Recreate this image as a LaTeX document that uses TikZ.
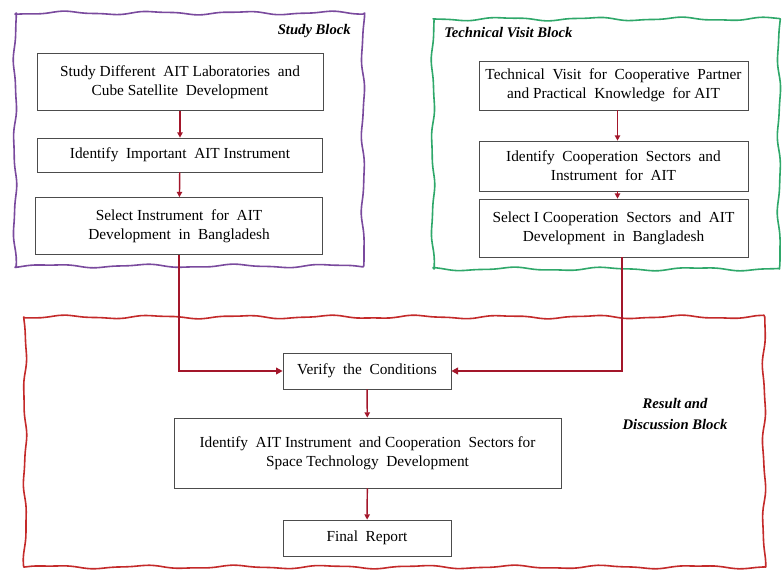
\documentclass[tikz,border=0pt]{standalone}
\usepackage{fontspec}
\setmainfont{Liberation Serif}
\usetikzlibrary{arrows.meta}
\definecolor{studyc}{HTML}{7A4A9E}
\definecolor{visitc}{HTML}{2FA86A}
\definecolor{resultc}{HTML}{C42A2A}
\definecolor{flowc}{HTML}{A3162A}
\tikzset{
  stepbox/.style={draw=black!70, line width=0.5pt, fill=white, align=center,
    inner sep=2pt, font=\fontsize{11.5}{14}\selectfont},
  frame/.style={line width=1.2pt, line join=round},
  blocktitle/.style={font=\fontsize{11}{13}\selectfont\bfseries\itshape, inner sep=0pt},
  flow/.style={draw=flowc, line width=1.1pt, -{Triangle[length=4pt,width=4pt]}},
  merge/.style={draw=flowc, line width=1.8pt, -{Triangle[length=5pt,width=5pt]}}
}
% hand-drawn looking frame: #1=left, #2=top, #3=right, #4=bottom, #5=colour
\newcommand{\wobblyframe}[5]{%
  \draw[frame, #5]
    plot[smooth, samples=90, domain=#1:#3] (\x, {#2 + 1.4*sin(\x*4.1) + 0.5*sin(\x*9.3+40)})
    -- plot[smooth, samples=60, domain=#2:#4] ({#3 + 1.4*sin(\x*4.6+20) + 0.4*sin(\x*9.7)}, \x)
    -- plot[smooth, samples=90, domain=#3:#1] (\x, {#4 + 1.4*sin(\x*3.9+70) + 0.5*sin(\x*8.9)})
    -- plot[smooth, samples=60, domain=#4:#2] ({#1 + 1.4*sin(\x*4.3+10) + 0.4*sin(\x*10.1+30)}, \x)
    -- cycle;}
\begin{document}
\begin{tikzpicture}[x=0.75pt,y=-0.75pt]
\useasboundingbox (0,0) rectangle (782,571);
\fill[white] (0,0) rectangle (782,571);

% block frames
\wobblyframe{15}{13}{363}{266}{studyc}
\wobblyframe{433}{19}{779}{269}{visitc}
\wobblyframe{25}{317}{764}{567}{resultc}

% block titles
\node[blocktitle, anchor=east] (tstudy) at (351,31) {Study Block};
\node[blocktitle, anchor=west] (tvisit) at (444,33) {Technical Visit Block};
\node[blocktitle, align=center, font=\fontsize{11}{16}\selectfont\bfseries\itshape]
  (tresult) at (675,414) {Result and\\Discussion Block};

% study steps
\node[stepbox, minimum width=214.5pt, minimum height=42.75pt] (s1) at (180,82)
  {Study Different\ \ AIT Laboratories\ \ and\\Cube Satellite\ \ Development};
\node[stepbox, minimum width=213.75pt, minimum height=25.5pt] (s2) at (180,155)
  {Identify\ \ Important\ \ AIT Instrument};
\node[stepbox, minimum width=215.25pt, minimum height=42.75pt] (s3) at (179,226)
  {Select Instrument\ \ for\ \ AIT\\Development\ \ in\ \ Bangladesh};

% technical visit steps
\node[stepbox, minimum width=201.75pt, minimum height=36.75pt] (t1) at (613.5,85.5)
  {Technical\ \ Visit\ \ for\ \ Cooperative\ \ Partner\\and Practical\ \ Knowledge\ \ for AIT};
\node[stepbox, minimum width=201.75pt, minimum height=37.5pt] (t2) at (613.5,166)
  {Identify\ \ Cooperation\ \ Sectors\ \ and\\Instrument\ \ for\ \ AIT};
\node[stepbox, minimum width=201.75pt, minimum height=43.5pt] (t3) at (613.5,228)
  {Select I Cooperation\ \ Sectors\ \ and\ \ AIT\\Development\ \ in\ \ Bangladesh};

% result steps
\node[stepbox, minimum width=126pt, minimum height=27pt] (v) at (367,371)
  {Verify\ \ the\ \ Conditions};
\node[stepbox, minimum width=290.25pt, minimum height=52.5pt] (r) at (367.5,453)
  {Identify\ \ AIT Instrument\ \ and Cooperation\ \ Sectors for\\Space Technology\ \ Development};
\node[stepbox, minimum width=126pt, minimum height=27pt] (f) at (367,538)
  {Final\ \ Report};

% connectors
\draw[flow] (s1) -- (s2);
\draw[flow] (s2) -- (s3);
\draw[flow] ([xshift=3pt]t1.south) -- ([xshift=3pt]t2.north);
\draw[flow] ([xshift=3pt]t2.south) -- ([xshift=3pt]t3.north);
\draw[merge] (s3.south) |- (v.west);
\draw[merge] ([xshift=6.5pt]t3.south) |- (v.east);
\draw[flow] (v) -- (r);
\draw[flow] (r) -- (f);
\end{tikzpicture}
\end{document}
